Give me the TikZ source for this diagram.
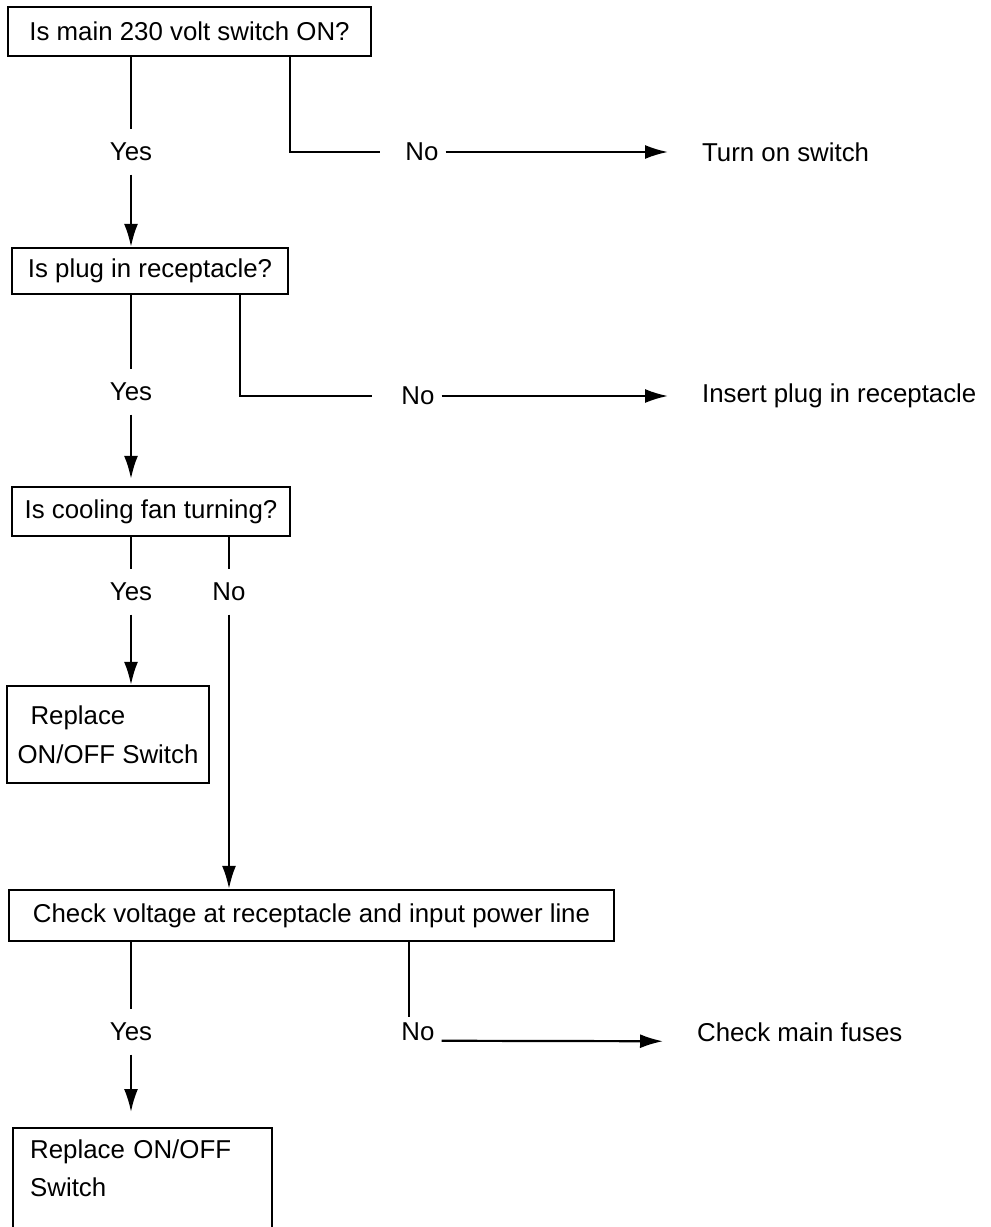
\documentclass[tikz,border=0pt]{standalone}
\usepackage{fontspec}
\setmainfont{Liberation Sans}
\usetikzlibrary{arrows.meta}

\tikzset{
  box/.style={draw, line width=1.3pt, inner sep=0pt, font=\fontsize{14.7}{22}\selectfont},
  lbl/.style={inner xsep=0.12cm, inner ysep=0.25cm, font=\fontsize{14.7}{22}\selectfont},
  act/.style={anchor=west, inner xsep=0.66cm, font=\fontsize{14.7}{22}\selectfont},
  arr/.style={-{Latex[length=0.46cm,width=0.28cm]}}
}

\begin{document}
\begin{tikzpicture}[line width=1.25pt]

\useasboundingbox (0,0) rectangle (19.8,-24.54);

% Boxes

\node [box, minimum width=7.26cm, minimum height=0.98cm] (q1) at (3.79,-0.63) {Is main 230 volt switch ON?};
\node [box, minimum width=5.52cm, minimum height=0.92cm] (q2) at (3.00,-5.42) {Is plug in receptacle?};
\node [box, minimum width=5.56cm, minimum height=0.98cm] (q3) at (3.02,-10.23) {Is cooling fan turning?};
\node [box, minimum width=4.04cm, minimum height=1.94cm, align=left] (q4) at (2.16,-14.69) {\hspace*{0.26cm}Replace\\ON/OFF Switch};
\node [box, minimum width=12.10cm, minimum height=1.02cm] (q5) at (6.23,-18.31) {Check voltage at receptacle and input power line};
\node [box, anchor=north west, minimum height=2.6cm, inner xsep=0.34cm, text width=4.5cm, align=left] (q6) at (0.24,-22.54) {Replace ON/OFF\\Switch\\\strut};

% Yes / No

\node [lbl] (yes1) at (2.62,-3.04) {Yes};
\node [lbl] (no1) at (8.44,-3.04) {No};
\node [act] (act1) at (13.36,-3.04) {Turn on switch};

\node [lbl] (yes2) at (2.62,-7.84) {Yes};
\node [lbl] (no2) at (8.36,-7.92) {No};
\node [act] (act2) at (13.36,-7.92) {Insert plug in receptacle};

\node [lbl] (yes3) at (2.62,-11.84) {Yes};
\node [lbl] (no3) at (4.58,-11.84) {No};

\node [lbl] (yes5) at (2.62,-20.64) {Yes};
\node [lbl] (no5) at (8.36,-20.64) {No};
\node [act] (act5) at (13.26,-20.64) {Check main fuses};

\coordinate (c1) at (5.8,-3.04);
\coordinate (e1) at (7.6,-3.04);
\coordinate (c2) at (4.8,-7.92);
\coordinate (e2) at (7.44,-7.92);
\coordinate (c5) at (8.18,-20.34);

% Connectors

\draw (q1.south -| yes1) -- (yes1.north);
\draw [arr] (yes1.south) -- (q2.north -| yes1);
\draw (q1.south -| c1) |- (e1);
\draw [arr] (no1) -- (act1);

\draw (q2.south -| yes2) -- (yes2.north);
\draw [arr, shorten >=0.14cm] (yes2.south) -- (q3.north -| yes2);
\draw (q2.south -| c2) |- (e2);
\draw [arr] (no2) -- (act2);

\draw (q3.south -| yes3) -- (yes3.north);
\draw [arr] (yes3.south) -- (q4.north -| yes3);
\draw (q3.south -| no3) -- (no3.north);
\draw [arr] (no3.south) -- (q5.north -| no3);

\draw (q5.south -| yes5) -- (yes5.north);
\draw [arr, shorten >=0.3cm] (yes5.south) -- (q6.north -| yes5);
\draw (q5.south -| c5) -- (c5);
\draw [arr] (no5.base east) -- (act5.base west);

\end{tikzpicture}
\end{document}
